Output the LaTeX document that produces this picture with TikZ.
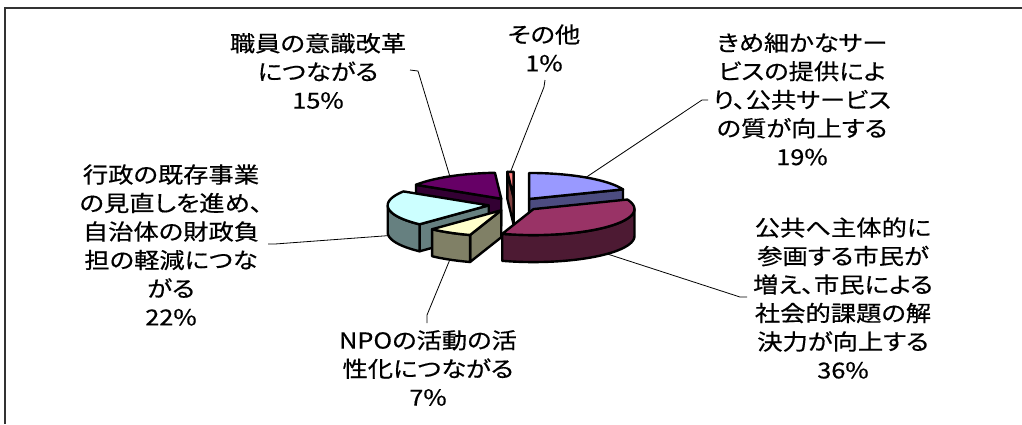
\documentclass[tikz,border=0pt]{standalone}
\usepackage{fontspec}
\newfontfamily\jp[FakeStretch=1.15,FakeBold=0.5,RawFeature={+palt}]{Noto Sans CJK JP}
\definecolor{blueTop}{HTML}{9999FF}
\definecolor{blueSide}{HTML}{4C4C80}
\definecolor{magTop}{HTML}{993366}
\definecolor{magSide}{HTML}{4D1A33}
\definecolor{yelTop}{HTML}{FFFFCC}
\definecolor{yelSide}{HTML}{808066}
\definecolor{cyaTop}{HTML}{CCFFFF}
\definecolor{cyaSide}{HTML}{668080}
\definecolor{purTop}{HTML}{660066}
\definecolor{purSide}{HTML}{330033}
\definecolor{salTop}{HTML}{FF8080}
\definecolor{salSide}{HTML}{804040}
\def\PCx{514.5}\def\PCy{204.5}\def\PEx{26}\def\PEy{6.7}
\def\PRx{101}\def\PRy{26}\def\PH{27}
\newcommand\apexof[1]{%
  \pgfmathsetmacro\ax{\PCx+\PEx*sin(#1)}%
  \pgfmathsetmacro\ay{\PCy-\PEy*cos(#1)}}
\newcommand\radface[4]{%
  \filldraw[face, fill=#4] (#1,#2) -- ({#1+\PRx*sin(#3)},{#2-\PRy*cos(#3)})
    -- ({#1+\PRx*sin(#3)},{#2-\PRy*cos(#3)+\PH}) -- (#1,{#2+\PH}) -- cycle;}
\newcommand\outface[5]{%
  \filldraw[face, fill=#5] plot[domain=#3:#4, samples=40] ({#1+\PRx*sin(\x)},{#2-\PRy*cos(\x)})
    -- plot[domain=#4:#3, samples=40] ({#1+\PRx*sin(\x)},{#2-\PRy*cos(\x)+\PH}) -- cycle;}
\newcommand\topface[5]{%
  \filldraw[face, fill=#5] (#1,#2) -- plot[domain=#3:#4, samples=60] ({#1+\PRx*sin(\x)},{#2-\PRy*cos(\x)}) -- cycle;}
\begin{document}
\begin{tikzpicture}[x=1pt,y=-1pt,
  lbl/.style={font=\jp\fontsize{22}{28.5}\selectfont, align=center, inner sep=0pt},
  leader/.style={draw=black, line width=0.8pt},
  face/.style={draw=black, line width=2.4pt, line join=round}]
\useasboundingbox (0,0) rectangle (1022,424);
\draw[line width=2pt, draw=black!80] (5,424) -- (5,7.5) -- (1022,7.5);

% 1% slice
\apexof{358.2}
\radface{\ax}{\ay}{356.4}{salSide}
\topface{\ax}{\ay}{356.4}{360}{salTop}
\coordinate (p1) at ({\ax+\PRx*sin(358.2)},{\ay-\PRy*cos(358.2)});
% 15% slice
\apexof{329.4}
\radface{\ax}{\ay}{302.4}{purSide}
\topface{\ax}{\ay}{302.4}{356.4}{purTop}
\coordinate (p15) at ({\ax+\PRx*sin(329.4)},{\ay-\PRy*cos(329.4)});
% 19% slice
\apexof{34.2}
\radface{\ax}{\ay}{68.4}{blueSide}
\topface{\ax}{\ay}{0}{68.4}{blueTop}
\coordinate (p19) at ({\ax+\PRx*sin(34.2)},{\ay-\PRy*cos(34.2)});
% 22% slice
\apexof{262.8}
\radface{\ax}{\ay}{223.2}{cyaSide}
\outface{\ax}{\ay}{223.2}{270}{cyaSide}
\topface{\ax}{\ay}{223.2}{302.4}{cyaTop}
\coordinate (p22) at ({\ax+\PRx*sin(262.8)},{\ay-\PRy*cos(262.8)+\PH});
% 36% slice
\apexof{133.2}
\outface{\ax}{\ay}{90}{198}{magSide}
\topface{\ax}{\ay}{68.4}{198}{magTop}
\coordinate (p36) at ({\ax+\PRx*sin(133.2)},{\ay-\PRy*cos(133.2)+\PH});
% 7% slice
\apexof{210.6}
\radface{\ax}{\ay}{198}{yelSide}
\outface{\ax}{\ay}{198}{223.2}{yelSide}
\topface{\ax}{\ay}{198}{223.2}{yelTop}
\coordinate (p7) at ({\ax+\PRx*sin(210.6)},{\ay-\PRy*cos(210.6)+\PH});

% labels
\node[lbl] (l15) at (318,71) {職員の意識改革\\につながる\\15\%};
\node[lbl] (l1) at (544,48) {その他\\1\%};
\node[lbl] (l19) at (802,99) {きめ細かなサー\\ビスの提供によ\\り、公共サービス\\の質が向上する\\19\%};
\node[lbl] (l36) at (843,298) {公共へ主体的に\\参画する市民が\\増え、市民による\\社会的課題の解\\決力が向上する\\36\%};
\node[lbl] (l22) at (171,245) {行政の既存事業\\の見直しを進め、\\自治体の財政負\\担の軽減につな\\がる\\22\%};
\node[lbl] (l7) at (428,368) {NPOの活動の活\\性化につながる\\7\%};

% leader lines
\coordinate (t15a) at (410,70); \coordinate (t15b) at (418,71);
\draw[leader] (t15a) -- (t15b) -- (p15);
\coordinate (t1a) at (545,80); \coordinate (t1b) at (544,87);
\draw[leader] (t1a) -- (t1b) -- (p1);
\coordinate (t19a) at (708,100); \coordinate (t19b) at (702,100);
\draw[leader] (t19a) -- (t19b) -- (p19);
\coordinate (t36a) at (747,297); \coordinate (t36b) at (740,297);
\draw[leader] (t36a) -- (t36b) -- (p36);
\coordinate (t22a) at (268,244); \coordinate (t22b) at (275,244);
\draw[leader] (t22a) -- (t22b) -- (p22);
\coordinate (t7a) at (427,323); \coordinate (t7b) at (427,315);
\draw[leader] (t7a) -- (t7b) -- (p7);
\end{tikzpicture}
\end{document}
